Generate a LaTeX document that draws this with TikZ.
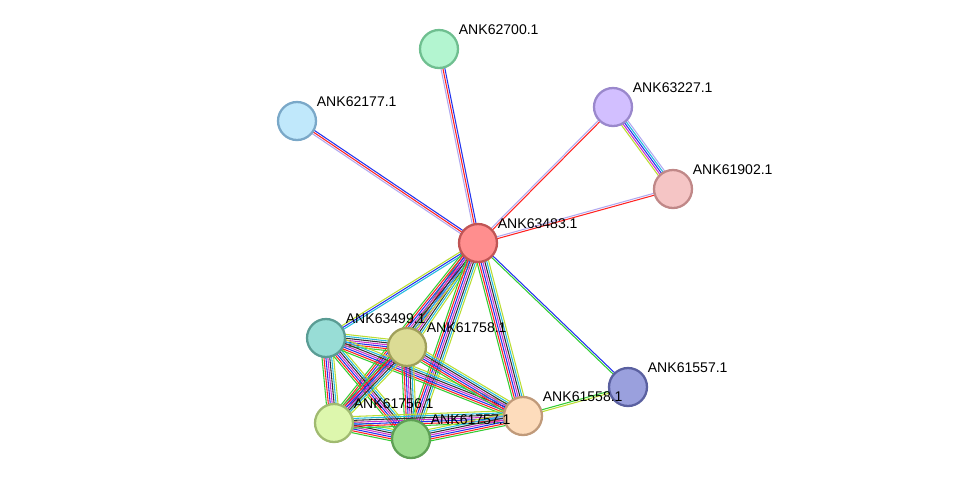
\documentclass[tikz,border=0pt]{standalone}
\usepackage{fontspec}
\setmainfont{Liberation Sans}
\usetikzlibrary{calc}
\pgfdeclarelayer{background}
\pgfsetlayers{background,main}
\definecolor{cnbh}{HTML}{33CC33}
\definecolor{cfus}{HTML}{FF2222}
\definecolor{cocc}{HTML}{2233EE}
\definecolor{cexp}{HTML}{CC33CC}
\definecolor{cdb}{HTML}{22BBDD}
\definecolor{ctxt}{HTML}{BBDD33}
\definecolor{ccoe}{HTML}{333333}
\definecolor{chom}{HTML}{B0A8F0}
% node colours
\definecolor{fA}{HTML}{B3F5D0}\definecolor{dA}{HTML}{6FBF90}
\definecolor{fB}{HTML}{C0E8FB}\definecolor{dB}{HTML}{7AA8C8}
\definecolor{fC}{HTML}{D2BFFF}\definecolor{dC}{HTML}{9A88CC}
\definecolor{fD}{HTML}{F5C5C5}\definecolor{dD}{HTML}{C08888}
\definecolor{fE}{HTML}{FF8E8E}\definecolor{dE}{HTML}{C05555}
\definecolor{fF}{HTML}{98DDD6}\definecolor{dF}{HTML}{5A9C94}
\definecolor{fG}{HTML}{DCDC95}\definecolor{dG}{HTML}{A0A05A}
\definecolor{fH}{HTML}{9AA0DD}\definecolor{dH}{HTML}{5A60A0}
\definecolor{fI}{HTML}{FDDCBC}\definecolor{dI}{HTML}{C09A7A}
\definecolor{fJ}{HTML}{DDF7AD}\definecolor{dJ}{HTML}{A0BA70}
\definecolor{fK}{HTML}{9DDC8F}\definecolor{dK}{HTML}{5FA055}
\tikzset{
  prot/.style 2 args={circle, minimum size=0.76cm, line width=1.3pt, fill=#1, draw=#2},
  lbl/.style={label={[anchor=south west, inner sep=0pt, xshift=3pt, font=\footnotesize]north east:#1}}
}
% multi coloured edge between two nodes
\newcommand\sedge[3]{%
  \foreach \c [count=\n] in {#3} {\xdef\nn{\n}}
  \foreach \c [count=\i] in {#3} {
    \pgfmathsetmacro\off{(\i-(\nn+1)/2)*1.1}
    \draw[\c, line width=0.6pt] ($(#1.center)!\off pt!90:(#2.center)$) -- ($(#2.center)!\off pt!-90:(#1.center)$);
  }
}
\begin{document}
\begin{tikzpicture}[x=0.02cm, y=-0.02cm]
  \useasboundingbox (0,0) rectangle (975,485);

  \node[prot={fA}{dA}, lbl=ANK62700.1] (p62700) at (439,49) {};
  \node[prot={fB}{dB}, lbl=ANK62177.1] (p62177) at (297,121) {};
  \node[prot={fC}{dC}, lbl=ANK63227.1] (p63227) at (613,107) {};
  \node[prot={fD}{dD}, lbl=ANK61902.1] (p61902) at (673,189) {};
  \node[prot={fE}{dE}, lbl=ANK63483.1] (p63483) at (478,243) {};
  \node[prot={fF}{dF}, lbl=ANK63499.1] (p63499) at (326,338) {};
  \node[prot={fG}{dG}, lbl=ANK61758.1] (p61758) at (407,347) {};
  \node[prot={fH}{dH}, lbl=ANK61557.1] (p61557) at (628,387) {};
  \node[prot={fI}{dI}, lbl=ANK61558.1] (p61558) at (523,416) {};
  \node[prot={fJ}{dJ}, lbl=ANK61756.1] (p61756) at (334,423) {};
  \node[prot={fK}{dK}, lbl=ANK61757.1] (p61757) at (411,439) {};

  \begin{pgfonlayer}{background}
    \sedge{p62700}{p63483}{chom,cfus,cocc}
    \sedge{p62177}{p63483}{chom,cfus,cocc}
    \sedge{p63227}{p63483}{chom,cfus}
    \sedge{p61902}{p63483}{chom,cfus}
    \sedge{p63227}{p61902}{ctxt,cexp,cocc,cdb,chom}
    \sedge{p63483}{p61557}{cnbh,cocc}
    \sedge{p61557}{p61558}{cnbh,ctxt}
    \sedge{p63483}{p63499}{ctxt,cocc,cdb}
    \foreach \a/\b in {p63483/p61758,p63483/p61756,p63483/p61757,p63483/p61558,
                       p63499/p61758,p63499/p61756,p63499/p61757,p63499/p61558,
                       p61758/p61756,p61758/p61757,p61758/p61558,
                       p61756/p61757,p61756/p61558,p61757/p61558}
      {\sedge{\a}{\b}{cnbh,cfus,cocc,cexp,ccoe,cdb,ctxt}}
  \end{pgfonlayer}
\end{tikzpicture}
\end{document}
